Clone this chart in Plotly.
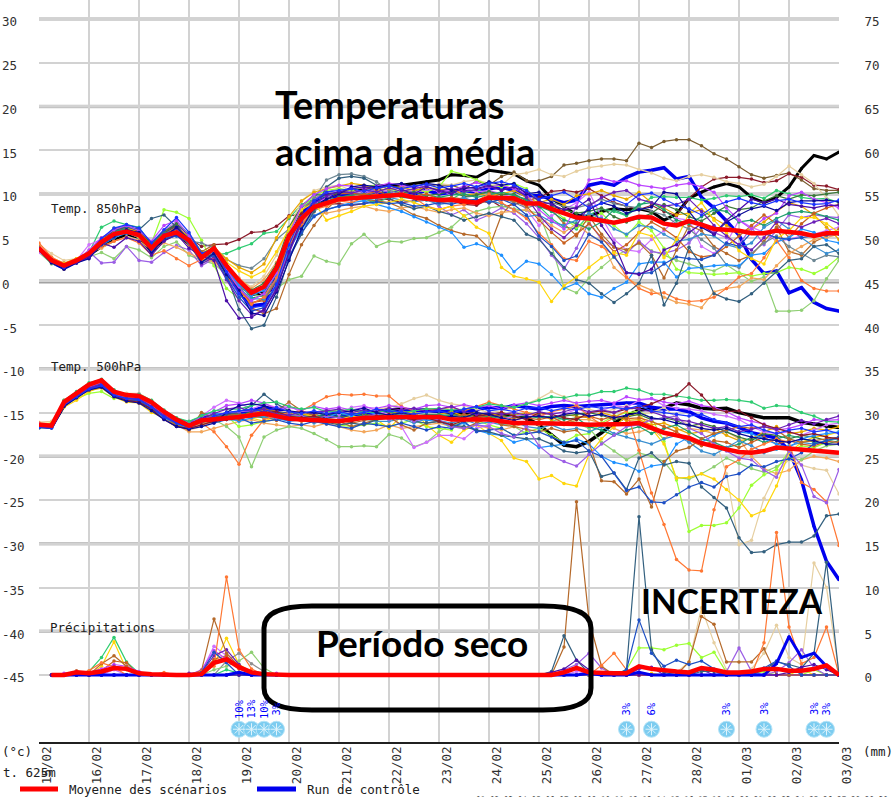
import pandas as pd
import plotly.graph_objects as go

# Ensemble forecast plume: 850 hPa and 500 hPa temperature, plus precipitation.
W, H = 894, 797
LEFT, RIGHT, TOP, BOTTOM = 39, 839, 0, 743
MONO = "DejaVu Sans Mono"
TICK_GREY = "#303030"

DATES = pd.date_range("2018-02-15", periods=65, freq="6h")
DAY_TICKS = pd.date_range("2018-02-15", periods=17, freq="D")
DAY_LABELS = ["15/02", "16/02", "17/02", "18/02", "19/02", "20/02", "21/02", "22/02", "23/02",
              "24/02", "25/02", "26/02", "27/02", "28/02", "01/03", "02/03", "03/03"]
TEMP_TICKS = [30, 25, 20, 15, 10, 5, 0, -5, -10, -15, -20, -25, -30, -35, -40, -45]
MM_TICKS = [75, 70, 65, 60, 55, 50, 45, 40, 35, 30, 25, 20, 15, 10, 5, 0]
HEAVY_TEMPS = [30, 20, 10, -10, -20, -30, -40]

# Temperature at 850 hPa (°C), one value every 6 hours
T850_MEAN = [3.8,2.4,1.8,2.4, 3.2,4.5,5.4,5.7, 5.3,3.8,5.2,5.6, 4.7,2.7,3.8,1.8, 0.1,-1.3,-0.6,1.5, 5.2,7.2,8.5,9.0, 9.4,9.5,9.6,9.6, 9.8,9.9,9.6,9.4, 9.3,9.3,9.2,9.0, 9.6,9.6,9.5,8.9, 8.9,8.3,7.8,7.3, 7.2,7.0,6.7,7.0, 7.4,7.3,6.6,6.4, 6.9,6.5,6.0,5.9, 5.8,5.5,5.5,5.8, 5.7,5.5,5.2,5.5, 5.5]
T850_RUN = [3.7,2.2,1.5,2.3, 3.0,4.4,5.6,6.1, 5.8,3.6,5.3,6.5, 5.0,3.0,3.6,1.0, -1.2,-2.8,-2.6,0.5, 4.8,7.8,9.0,9.6, 9.8,10.0,10.2,10.0, 10.2,10.1,10.0,10.4, 10.0,10.2,10.4,10.2, 10.6,10.8,10.4,9.8, 9.8,9.4,9.0,9.3, 11.0,11.3,11.0,11.9, 12.5,12.7,13.0,11.7, 12.0,9.6,8.4,6.9, 5.3,2.5,0.9,1.2, -1.3,-0.7,-2.4,-3.1, -3.4]
T850_BLACK = [3.5,2.2,1.7,2.3, 3.0,4.0,4.7,5.4, 5.0,3.4,4.8,5.4, 4.3,3.0,3.5,1.5, -0.3,-1.5,-1.3,1.2, 5.0,7.5,8.7,9.5, 10.0,10.3,10.6,10.9, 11.0,11.0,11.2,11.4, 11.6,12.2,12.1,11.9, 12.7,12.5,12.3,11.5, 11.0,9.5,8.5,7.6, 7.4,8.0,8.3,8.2, 8.3,8.0,7.0,7.7, 9.5,10.2,10.8,11.2, 10.8,9.6,9.0,9.6, 10.8,12.9,14.4,14.0, 14.8]
T850_OLIVE = [3.6,2.2,1.6,2.2, 3.0,4.2,5.6,6.0, 5.6,4.0,5.6,6.4, 4.5,3.0,3.4,1.2, -0.6,-2.5,-2.0,0.0, 5.0,8.0,9.5,10.0, 10.0,10.5,10.8,10.5, 11.0,10.5,10.2,11.0, 11.0,11.0,10.5,11.5, 11.0,12.0,12.5,11.5, 11.5,12.0,13.3,13.5, 13.8,14.0,14.0,13.8, 15.8,15.3,16.0,16.2, 16.2,15.5,14.6,14.0, 13.1,12.2,11.8,12.1, 12.4,11.6,10.6,10.4, 10.4]
T850_DARKRED = [3.5,2.3,1.9,2.5, 3.1,4.6,5.5,5.9, 5.5,4.1,5.4,6.0, 5.0,4.0,4.2,4.3, 4.8,5.6,5.7,6.3, 7.5,7.7,8.3,8.8, 8.9,8.7,8.9,9.3, 9.4,9.0,9.2,9.5, 9.0,9.2,8.8,8.7, 9.4,8.5,8.8,9.2, 9.6,10.3,10.4,10.2, 10.6,9.8,9.0,8.6, 8.2,8.7,8.0,7.5, 9.5,10.8,11.7,11.9, 11.9,11.7,11.3,11.5, 12.3,11.9,11.0,10.9, 10.5]
T850_GREEN = [3.9,2.6,1.8,2.5, 3.3,6.2,6.9,6.5, 6.2,4.2,5.8,6.8, 5.4,3.4,3.0,3.2, 3.8,4.3,5.5,5.7, 7.2,8.8,9.4,9.8, 9.2,9.8,9.4,9.0, 9.6,9.8,9.9,9.3, 9.6,9.4,10.2,10.5, 10.0,10.2,9.8,9.0, 8.6,7.2,6.2,6.0, 7.6,8.3,8.0,7.5, 8.6,9.6,9.7,9.6, 9.6,9.3,9.5,9.8, 9.7,9.9,9.5,10.4, 10.0,9.6,9.4,9.5, 9.0]
T850_SOFTGREEN = [3.4,2.0,1.7,2.1, 2.8,3.3,2.6,4.0, 3.6,2.7,4.0,4.5, 3.0,2.4,2.0,0.8, -0.5,-1.4,-1.8,-0.8, 0.2,0.6,2.9,2.3, 2.0,4.3,5.4,4.0, 4.6,4.5,4.9,5.0, 5.6,6.2,7.5,8.0, 8.4,8.6,8.3,8.1, 7.8,4.1,-0.7,-1.3, 0.4,1.6,2.8,3.6, 4.4,3.5,3.0,2.4, 2.0,1.5,1.2,1.9, 1.0,0.0,0.5,-3.4, -3.4,-3.3,-2.2,0.3, 2.4]
T850_YELLOW = [3.7,2.4,2.0,2.6, 3.2,4.8,5.5,5.7, 5.1,3.7,5.0,5.8, 4.4,2.5,3.6,2.2, 1.2,0.5,1.2,3.4, 6.0,8.2,9.0,7.0, 7.5,8.0,8.6,8.8, 9.0,9.4,9.0,8.5, 8.2,8.6,7.5,6.2, 5.5,1.6,0.6,0.3, -0.1,-2.3,-0.5,0.5, 1.6,2.7,3.3,3.0, 5.6,5.2,2.7,4.8, 7.8,9.0,7.0,5.5, 3.5,2.6,2.0,4.9, 5.8,7.3,7.3,6.6, 5.6]
T850_SKY = [3.6,2.3,1.7,2.2, 3.0,4.1,5.0,5.5, 5.2,3.6,4.9,5.2, 4.6,2.8,3.4,1.4, -0.4,-1.6,-1.0,0.8, 3.6,6.0,7.5,8.2, 8.6,9.0,9.2,8.8, 8.4,8.0,7.4,6.8, 6.2,5.6,3.9,4.3, 3.8,3.0,1.1,2.3, 2.0,0.8,-0.8,-0.2, -1.4,-1.8,-0.8,-0.1, 2.0,2.2,2.2,0.5, 1.5,1.6,1.8,1.9, 1.8,3.0,3.2,4.5, 5.0,6.0,5.6,4.7, 4.4]
T850_ORANGE = [4.4,2.8,2.0,2.4, 3.2,4.0,4.6,5.0, 4.4,3.0,3.5,2.6, 1.8,2.5,2.6,0.6, -1.0,-2.6,-1.8,0.4, 4.2,6.6,8.2,8.6, 9.2,9.0,9.6,10.0, 9.6,10.2,9.6,8.6, 8.2,8.6,8.8,9.2, 10.0,9.0,8.2,7.2, 5.5,4.2,2.6,2.4, 4.6,4.0,3.0,0.5, -0.8,-1.4,-1.3,-2.0, -2.3,-2.2,-1.8,-0.8, 0.5,0.9,2.7,4.7, 2.7,0.1,-0.8,-1.1, -1.1]
T850_STEEL = [3.7,2.4,1.6,2.3, 3.1,4.7,5.8,6.2, 5.9,7.2,7.6,6.2, 4.4,2.6,3.2,0.8, -3.2,-5.4,-5.0,-1.8, 2.6,5.4,8.0,10.8, 11.8,12.0,11.8,11.0, 9.5,8.8,8.3,8.6, 8.0,7.6,7.0,7.4, 7.8,7.4,7.0,5.4, 4.8,3.2,1.6,0.2, -0.2,-1.4,-2.4,-1.4, -0.2,3.0,-2.7,-0.2, 3.9,1.8,-1.4,-2.0, -2.3,-1.4,-0.2,1.1, 2.4,2.6,4.0,4.2, 3.2]
T850_TAN = [4.2,3.2,2.4,2.6, 3.2,4.4,5.2,5.6, 5.0,3.8,5.0,5.4, 4.6,3.2,3.8,2.0, 0.2,-0.6,0.6,3.0, 6.2,9.2,10.4,10.8, 11.0,10.4,10.0,10.2, 10.4,9.8,10.6,10.2, 11.2,11.0,11.4,11.6, 11.2,11.0,12.2,12.4, 12.8,12.2,12.0,12.6, 13.0,13.2,13.4,13.3, 12.8,12.4,11.8,11.5, 12.0,12.2,11.9,11.4, 11.2,10.8,11.1,12.0, 13.2,12.2,11.2,9.5, 7.5]
T850_VIOLET = [3.3,2.6,2.1,2.4, 4.2,4.8,5.6,5.9, 5.4,3.6,5.8,6.8, 4.8,2.5,3.4,1.6, -0.4,-0.8,-1.6,0.2, 3.4,6.6,8.8,9.6, 10.4,10.6,10.2,10.6, 10.4,10.8,10.2,10.4, 10.6,9.8,10.6,10.2, 10.4,10.0,9.6,8.2, 6.4,7.5,8.2,9.0, 10.2,7.4,4.8,3.6, 3.4,4.8,5.8,7.2, 7.0,4.0,3.2,4.4, 7.0,6.2,5.6,4.6, 4.8,5.2,5.4,5.8, 6.2]
T850_PURPLE = [3.9,2.5,1.9,2.6, 3.4,2.1,2.2,4.0, 2.4,2.2,3.3,4.1, 3.6,1.8,2.6,0.4, -1.4,-3.2,-3.4,-0.6, 3.8,7.0,9.4,10.2, 10.6,10.2,10.0,10.5, 10.2,9.8,10.4,9.6, 8.6,7.6,8.2,7.0, 7.6,8.4,7.8,6.6, 5.0,3.0,1.4,3.8, 6.8,4.8,4.0,3.2, 4.6,3.4,3.2,3.6, 4.4,6.2,5.6,5.0, 4.2,6.2,4.2,5.8, 7.6,7.3,7.6,7.4, 7.3]
T850_DARKPURPLE = [3.8,2.5,1.6,2.2, 2.8,4.4,3.9,5.0, 4.6,3.0,4.6,5.4, 3.8,2.9,2.4,-2.2, -4.2,-4.1,-3.2,-1.0, 3.4,7.2,9.2,10.0, 10.2,10.6,10.8,10.6, 11.0,10.5,10.0,10.8, 10.4,10.0,10.8,10.6, 11.0,10.4,10.8,10.2, 9.2,8.8,8.2,8.4, 9.4,6.4,4.4,1.0, 0.8,1.4,3.6,4.2, 5.6,6.6,5.4,7.0, 8.2,9.4,9.0,9.4, 8.8,8.6,8.4,8.7, 8.7]
T850_ROYAL = [3.6,2.2,1.5,2.2, 2.9,4.2,5.0,5.8, 5.5,3.4,4.9,5.2, 4.4,2.2,3.0,0.4, -1.8,-3.4,-3.0,-0.4, 2.8,5.6,7.4,8.2, 8.6,8.8,8.9,9.1, 8.9,9.0,8.6,8.7, 9.0,8.8,9.2,9.4, 9.0,9.4,8.8,7.6, 5.2,4.0,2.4,2.9, 5.4,4.5,2.8,1.0, 0.9,1.0,2.0,2.8, 2.6,2.5,3.0,4.4, 4.0,5.6,5.5,5.0, 4.8,5.0,5.2,5.3, 5.4]
T850_LIME = [3.8,2.6,2.0,2.5, 3.5,4.6,6.1,6.3, 5.5,4.4,8.2,7.9, 7.2,4.7,1.8,-0.8, -2.0,-1.2,-0.4,1.6, 5.6,8.4,9.8,10.4, 10.6,10.4,10.8,11.0, 10.6,10.2,10.6,10.2, 10.8,12.6,12.2,11.6, 11.0,10.8,11.2,10.6, 9.0,8.4,7.2,6.2, 7.0,7.8,6.4,5.2, 6.8,5.8,3.8,1.4, 1.0,0.9,0.8,0.9, 1.0,0.6,0.9,1.0, 1.6,1.4,0.9,1.6, 2.8]
T850_BROWN = [4.0,2.4,1.4,2.2, 3.0,4.6,5.8,6.1, 5.7,4.2,5.2,5.8, 5.2,3.4,4.2,1.6, -0.2,-3.0,-3.7,-3.1, 0.8,4.2,6.4,8.2, 9.6,9.8,9.4,9.2, 9.0,8.4,7.6,7.2, 6.4,5.8,5.4,5.2, 3.8,7.6,9.2,9.0, 8.6,8.2,6.6,5.2, 7.5,5.4,3.9,3.6, 4.4,3.0,0.4,3.6, 6.4,5.8,4.0,3.2, 2.4,3.0,4.6,6.2, 3.4,3.0,4.5,5.2, 6.0]
T850_SLATE = [3.7,2.3,1.7,2.3, 3.1,4.3,5.3,5.6, 5.0,3.9,5.2,5.3, 4.6,4.4,3.8,2.5, 1.8,1.5,2.6,4.8, 6.0,8.4,9.4,11.6, 12.2,12.3,12.0,11.4, 10.4,10.0,9.8,9.4, 9.0,9.2,9.6,9.8, 10.2,9.6,9.0,8.4, 8.8,9.0,8.6,8.4, 8.8,9.4,8.9,8.6, 8.4,8.0,7.6,6.6, 6.0,4.8,3.8,1.9, 1.6,3.2,4.4,5.2, 4.0,3.2,2.4,3.0, 2.8]
T850_NAVY = [3.6,2.1,1.4,2.1, 2.6,4.3,5.2,5.9, 5.6,3.2,5.0,6.2, 4.8,2.2,3.2,0.8, -1.0,-3.6,-3.9,-1.2, 2.4,6.0,8.4,9.4, 10.0,10.8,11.0,10.8, 11.0,11.2,10.8,11.2, 11.0,10.4,10.6,10.8, 11.4,11.0,11.2,10.0, 10.2,9.0,7.8,7.4, 8.2,9.0,8.6,7.8, 8.2,8.5,10.2,10.0, 8.0,6.2,5.4,6.8, 7.6,8.3,8.6,8.1, 9.0,9.2,9.2,9.3, 9.1]
T850_PEACH = [3.9,2.7,2.0,2.5, 3.3,3.8,4.6,5.1, 4.7,3.5,4.4,3.9, 3.2,2.6,2.2,1.2, 0.4,-0.8,0.2,2.2, 4.6,7.0,7.6,7.8, 8.1,8.4,8.6,8.2, 8.0,8.4,8.6,8.2, 7.9,8.2,8.4,7.8, 7.5,7.9,8.0,8.2, 7.4,6.4,5.6,6.6, 5.4,4.6,1.6,0.4, -0.4,-1.0,-1.8,-2.4, -2.6,-3.0,-1.2,-0.8, -0.6,0.4,0.2,1.8, 3.2,4.0,4.8,5.0, 5.4]
T850_BLUE = [3.7,2.3,1.6,2.3, 3.2,4.9,6.1,6.5, 6.1,4.4,5.9,7.3, 5.6,3.2,3.7,1.1, -1.4,-3.0,-2.8,-0.3, 4.2,7.4,9.2,10.2, 10.4,10.6,10.3,10.7, 10.9,10.6,10.9,11.1, 10.7,10.9,11.2,10.8, 11.2,11.4,11.0,10.4, 9.4,9.8,10.2,9.4, 8.4,8.9,9.4,8.8, 9.9,10.1,9.4,8.7, 8.3,7.6,8.6,9.1, 9.5,9.0,8.7,9.2, 9.4,9.0,8.8,8.9, 9.3]
T850_MAGENTA = [3.6,2.5,1.9,2.4, 3.6,5.0,5.9,6.4, 5.8,4.6,6.4,7.0, 5.2,2.9,3.5,1.3, -0.8,-2.2,-1.4,1.0, 5.4,8.6,9.9,10.6, 11.0,10.9,10.6,10.9, 11.2,11.0,10.7,10.9, 10.2,10.4,10.9,11.3, 10.8,11.0,10.6,10.0, 8.2,7.0,6.0,8.6, 11.6,11.8,11.4,11.5, 11.0,10.8,10.6,11.0, 11.2,10.8,10.2,8.4, 7.0,6.0,7.2,7.8, 9.8,10.2,9.4,9.0, 8.4]
T850_TEAL = [3.7,2.4,1.8,2.4, 3.3,4.6,5.7,6.0, 5.4,3.9,5.5,5.9, 5.0,2.8,3.9,1.7, -0.1,-1.9,-1.6,0.9, 4.9,7.0,8.8,9.2, 9.6,9.9,10.0,9.7, 10.1,9.6,9.5,9.9, 9.6,9.9,10.0,9.6, 9.9,10.2,9.8,9.4, 8.6,8.0,7.0,6.6, 6.0,6.8,8.2,7.6, 8.8,9.0,8.2,7.0, 6.6,7.4,8.2,8.0, 6.8,7.0,6.4,7.2, 7.8,8.0,7.8,7.4, 7.0]
T850_GOLD = [3.9,2.7,2.1,2.6, 3.4,5.0,5.8,6.2, 5.5,4.0,5.4,6.2, 5.1,3.2,3.9,2.6, 1.6,1.0,2.0,5.0, 7.4,9.2,10.2,10.6, 10.9,11.2,11.0,10.4, 10.6,10.8,10.4,10.7, 10.5,10.6,9.9,10.0, 9.8,10.0,10.4,9.6, 9.0,9.4,8.8,9.8, 10.0,10.4,9.8,9.4, 10.2,9.0,8.4,7.6, 7.8,8.2,7.2,6.4, 5.6,6.0,6.8,8.0, 9.0,8.6,7.6,6.2, 4.8]
T850_RUST = [3.5,2.2,1.8,2.4, 3.0,4.4,5.2,5.8, 5.2,3.7,5.1,5.5, 4.2,2.2,3.3,1.0, -0.9,-2.4,-2.2,0.2, 3.9,6.4,8.0,9.4, 10.0,10.1,9.9,10.3, 9.9,10.0,9.7,10.0, 9.4,9.6,9.4,9.2, 9.0,9.4,9.2,8.6, 7.0,5.6,4.4,5.4, 6.6,5.0,3.4,4.2, 5.6,6.8,6.0,5.0, 3.4,2.8,3.0,4.0, 5.2,6.4,7.6,6.6, 5.0,6.6,7.8,8.4, 8.8]
T850_PLUM = [3.8,2.3,1.5,2.1, 2.7,4.2,5.4,5.8, 5.6,3.3,5.4,6.0, 4.6,2.0,2.8,0.2, -2.2,-3.8,-3.4,-0.8, 3.2,6.8,8.9,9.7, 10.3,10.1,10.5,10.2, 10.7,10.3,10.6,10.9, 10.3,10.6,10.3,10.5, 10.9,10.4,10.9,9.6, 7.6,6.0,5.0,6.4, 8.6,9.6,10.2,10.4, 9.4,9.0,8.6,8.8, 9.4,8.0,6.4,5.2, 4.2,3.6,5.0,6.8, 6.6,6.2,6.8,7.2, 6.6]
T850_AQUA = [3.7,2.5,1.7,2.3, 3.2,4.5,5.5,5.9, 5.3,4.0,5.0,5.4, 4.8,3.0,3.6,1.4, -0.7,-2.0,-2.0,0.3, 3.8,6.0,8.0,9.0, 9.2,9.4,9.3,9.5, 9.6,9.3,9.1,9.3, 8.8,9.0,9.6,9.0, 9.2,8.9,8.2,7.4, 7.6,6.8,6.4,7.0, 7.8,7.2,6.0,5.4, 6.4,6.2,5.4,4.6, 4.8,5.4,5.2,4.2, 3.8,4.4,6.2,7.0, 6.0,5.0,4.0,3.2, 3.6]
T850_FOREST = [3.6,2.4,1.6,2.2, 3.1,4.8,6.0,6.3, 5.9,4.3,5.7,6.6, 5.3,3.1,3.9,1.8, 0.0,-1.0,-0.2,2.0, 6.2,8.6,9.9,9.9, 10.1,10.0,9.8,10.0, 9.7,10.1,10.2,9.8, 10.0,10.3,9.7,9.9, 10.3,9.9,10.0,9.2, 8.4,8.6,8.2,7.8, 8.0,8.4,7.4,6.8, 7.2,7.8,8.8,8.2, 7.4,6.9,7.8,8.6, 8.2,8.4,9.2,9.8, 9.4,9.9,9.8,10.0, 10.2]

# Temperature at 500 hPa (°C)
T500_MEAN = [-16.4,-16.5,-13.8,-12.8, -11.8,-11.3,-12.6,-13.0, -13.1,-13.8,-14.9,-15.8, -16.5,-15.9,-15.8,-15.7, -15.5,-15.3,-15.1,-15.4, -15.7,-15.8,-15.9,-16.0, -16.0,-15.8,-15.6,-15.6, -15.5,-15.5,-15.5,-15.5, -15.5,-15.8,-15.8,-15.8, -15.8,-16.0,-16.2,-16.2, -16.2,-16.3,-16.3,-16.3, -16.4,-16.4,-16.4,-16.3, -16.2,-16.7,-17.3,-17.6, -17.9,-18.5,-18.9,-19.2, -19.5,-19.6,-19.4,-19.0, -19.1,-19.2,-19.4,-19.5, -19.6]
T500_RUN = [-16.6,-16.7,-14.0,-13.0, -12.2,-11.8,-12.9,-13.4, -13.3,-14.2,-15.1,-16.0, -16.4,-15.6,-15.4,-15.2, -15.0,-14.8,-14.4,-14.8, -15.0,-15.3,-15.2,-15.4, -15.4,-15.4,-15.2,-15.0, -15.0,-14.9,-14.7,-14.8, -14.9,-14.9,-14.8,-14.7, -14.4,-14.5,-14.2,-14.4, -14.6,-14.3,-14.2,-14.3, -14.2,-14.1,-14.0,-13.9, -13.9,-14.4,-14.6,-14.6, -14.9,-15.6,-16.0,-16.2, -16.7,-17.3,-17.6,-17.9, -19.3,-22.7,-28.0,-32.0, -34.1]
T500_BLACK = [-16.5,-16.6,-14.2,-13.0, -12.0,-11.6,-12.8,-13.2, -13.3,-14.0,-15.0,-15.8, -16.2,-15.6,-15.4,-15.6, -15.6,-15.2,-15.0,-15.2, -15.6,-15.7,-15.6,-15.5, -15.4,-15.3,-15.0,-14.8, -14.7,-14.6,-14.8,-14.7, -14.9,-15.0,-15.1,-15.2, -15.3,-15.2,-15.4,-15.6, -16.4,-17.5,-18.7,-18.9, -18.3,-17.3,-16.2,-15.4, -14.7,-14.6,-14.5,-13.9, -14.1,-14.5,-14.6,-14.5, -15.0,-15.3,-15.6,-15.6, -15.6,-16.1,-16.3,-16.6, -16.7]
T500_GREEN = [-16.5,-16.4,-13.6,-12.6, -11.6,-11.2,-12.4,-13.2, -12.9,-13.6,-14.7,-15.6, -16.0,-15.4,-14.8,-14.6, -14.6,-14.2,-13.9,-13.8, -14.3,-14.6,-14.4,-14.9, -14.8,-14.6,-14.9,-15.0, -14.7,-15.0,-14.8,-14.6, -14.5,-14.7,-14.6,-14.4, -14.0,-14.2,-14.4,-14.0, -13.6,-13.2,-13.3,-13.0, -13.0,-12.6,-12.6,-12.2, -12.4,-12.9,-12.9,-13.1, -13.3,-13.6,-13.6,-13.5, -13.6,-13.8,-14.5,-14.2, -14.3,-15.0,-15.4,-16.0, -16.1]
T500_ORANGE = [-16.2,-16.3,-13.6,-12.7, -11.9,-11.6,-12.6,-13.1, -13.4,-14.0,-15.2,-16.1, -16.6,-16.2,-17.2,-18.9, -20.9,-17.6,-15.8,-15.3, -15.0,-14.8,-14.0,-13.2, -12.9,-13.0,-12.9,-13.1, -13.1,-14.3,-14.8,-14.6, -14.6,-14.4,-14.8,-14.3, -13.8,-14.2,-14.6,-15.0, -15.4,-14.9,-14.6,-14.2, -15.4,-16.4,-15.6,-14.8, -19.3,-24.2,-27.8,-31.8, -33.0,-33.1,-26.1,-21.2, -20.4,-19.2,-18.6,-18.0, -18.4,-23.0,-23.8,-25.2, -30.2]
T500_SOFTGREEN = [-16.8,-16.6,-14.2,-13.4, -12.2,-11.8,-13.0,-13.6, -13.7,-14.4,-15.3,-16.2, -16.6,-16.2,-15.8,-16.6, -17.8,-21.2,-17.8,-17.0, -16.6,-16.8,-17.4,-18.1, -18.9,-18.9,-18.8,-18.9, -17.5,-17.9,-18.9,-18.4, -17.2,-16.4,-16.2,-15.8, -15.6,-16.2,-16.6,-17.4, -17.2,-16.0,-15.6,-16.2, -16.8,-18.4,-19.4,-20.4, -19.6,-20.0,-20.6,-22.4, -22.6,-22.0,-21.2,-20.2, -20.8,-21.4,-21.8,-21.2, -20.2,-20.4,-19.4,-18.8, -18.6]
T500_YELLOW = [-16.3,-16.2,-14.4,-13.6, -12.6,-12.0,-13.2,-13.8, -13.9,-15.0,-15.6,-16.4, -16.8,-16.0,-15.6,-15.4, -15.2,-15.6,-16.0,-15.4, -15.2,-14.9,-15.6,-16.2, -15.8,-15.4,-15.6,-15.8, -16.8,-15.4,-14.8,-16.4, -17.6,-18.4,-17.0,-16.4, -17.4,-18.2,-20.2,-20.6, -22.6,-22.2,-23.1,-23.4, -19.8,-18.0,-16.6,-15.4, -15.2,-16.8,-18.6,-22.5, -22.4,-22.0,-22.6,-23.8, -25.0,-26.8,-26.2,-23.4, -19.6,-18.4,-17.8,-17.6, -17.2]
T500_LIME = [-16.4,-16.2,-13.9,-13.4, -12.8,-12.6,-13.4,-13.2, -13.0,-13.9,-15.0,-15.9, -16.4,-16.0,-15.2,-15.4, -16.6,-16.4,-16.0,-15.8, -15.4,-15.0,-15.6,-15.8, -16.4,-16.6,-16.4,-16.2, -16.6,-16.2,-15.8,-16.6, -16.8,-17.0,-15.6,-15.9, -16.4,-16.8,-17.6,-17.2, -16.8,-17.6,-18.4,-17.6, -17.4,-16.2,-15.4,-15.0, -14.9,-15.6,-18.3,-22.7, -28.6,-27.9,-27.9,-27.6, -25.9,-23.3,-22.1,-21.5, -19.4,-18.8,-19.0,-18.4, -17.8]
T500_SLATE = [-16.6,-16.5,-14.0,-12.9, -12.1,-11.7,-12.9,-13.3, -13.5,-14.2,-15.0,-15.8, -16.2,-15.8,-15.6,-15.2, -15.0,-14.2,-12.9,-14.0, -14.8,-15.4,-15.9,-16.1, -16.4,-16.2,-16.4,-15.8, -15.6,-15.4,-16.0,-16.2, -16.0,-16.4,-16.6,-17.0, -17.2,-17.6,-17.8,-18.0, -18.0,-18.6,-19.4,-19.6, -19.4,-22.3,-21.9,-23.8, -20.2,-19.6,-21.0,-20.6, -20.8,-23.5,-24.7,-25.9, -29.3,-31.0,-30.9,-30.1, -29.8,-29.8,-29.1,-26.8, -26.6]
T500_ROYAL = [-16.7,-16.8,-14.2,-13.2, -12.4,-12.0,-13.1,-13.6, -13.6,-14.6,-15.4,-16.2, -16.6,-15.8,-16.2,-15.8, -15.6,-16.2,-16.0,-15.8, -16.2,-16.4,-16.0,-16.3, -16.6,-16.8,-16.2,-16.4, -16.6,-16.2,-16.6,-17.0, -16.6,-16.8,-16.0,-17.2, -17.0,-16.8,-17.6,-17.4, -17.2,-17.8,-18.4,-18.2, -19.4,-20.0,-21.9,-23.9, -23.5,-25.2,-25.3,-24.4, -23.5,-23.0,-23.5,-22.3, -22.0,-21.0,-21.2,-20.6, -20.3,-19.6,-18.6,-18.2, -17.8]
T500_BROWN = [-16.5,-16.4,-14.0,-13.1, -12.3,-11.4,-12.7,-13.4, -13.6,-14.3,-15.4,-16.4, -17.0,-15.0,-15.6,-15.2, -15.8,-15.0,-14.6,-14.8, -13.8,-14.8,-15.3,-15.8, -16.0,-16.6,-16.2,-15.8, -15.5,-16.4,-17.0,-16.2, -16.0,-16.4,-16.8,-16.2, -15.6,-16.4,-16.6,-16.9, -17.2,-16.8,-17.2,-17.0, -18.4,-22.8,-22.9,-24.3, -22.6,-25.8,-20.6,-19.4, -19.0,-18.0,-17.4,-17.0, -16.6,-16.8,-16.6,-17.0, -18.0,-18.4,-18.2,-18.0, -17.8]
T500_SKY = [-16.6,-16.6,-14.1,-13.0, -12.2,-11.9,-13.0,-13.5, -13.7,-14.5,-15.6,-16.3, -16.6,-15.2,-15.0,-15.4, -16.0,-15.6,-15.2,-15.6, -16.0,-15.8,-16.0,-15.6, -15.0,-15.4,-14.8,-15.2, -15.6,-15.2,-15.6,-15.9, -16.0,-16.6,-16.2,-17.0, -17.4,-17.6,-18.4,-18.0, -19.0,-18.8,-18.6,-18.0, -18.6,-20.0,-20.7,-21.0, -21.7,-21.1,-20.9,-18.6, -17.8,-18.4,-17.6,-17.0, -17.2,-17.4,-18.0,-18.6, -19.0,-18.0,-17.6,-17.4, -17.2]
T500_TAN = [-16.1,-16.0,-13.8,-12.7, -12.0,-11.4,-12.5,-12.8, -12.8,-13.6,-14.8,-16.0, -17.0,-16.6,-16.0,-15.6, -15.4,-15.0,-15.4,-15.0, -14.8,-15.2,-15.4,-15.0, -14.6,-14.9,-15.1,-14.6, -14.4,-14.0,-13.4,-13.0, -13.6,-14.0,-14.2,-14.6, -15.0,-14.8,-14.4,-14.0, -13.4,-12.6,-13.2,-14.2, -14.6,-15.0,-14.6,-14.2, -15.2,-15.0,-14.4,-15.6, -16.4,-16.6,-17.6,-22.0, -30.1,-29.6,-24.8,-21.8, -20.4,-21.0,-21.4,-21.6, -24.3]
T500_VIOLET = [-16.4,-16.5,-13.9,-12.8, -11.9,-11.5,-12.8,-13.1, -13.2,-14.0,-15.1,-15.9, -16.4,-15.4,-14.4,-13.6, -13.9,-14.6,-14.0,-14.4, -14.2,-15.0,-15.0,-14.6, -15.2,-14.4,-14.2,-14.8, -15.2,-16.6,-19.0,-18.4, -17.6,-17.6,-18.0,-16.8, -16.4,-15.8,-15.4,-15.2, -15.4,-15.0,-15.2,-14.6, -15.0,-14.8,-14.2,-14.4, -13.6,-13.4,-14.2,-14.5, -14.6,-14.8,-15.2,-15.4, -15.8,-16.6,-17.2,-17.4, -17.2,-17.6,-17.0,-16.4, -16.2]
T500_PURPLE = [-16.5,-16.6,-14.1,-13.1, -12.1,-11.6,-12.9,-13.3, -13.4,-14.2,-15.2,-16.0, -16.4,-15.8,-15.4,-15.0, -14.9,-14.8,-15.2,-15.6, -15.2,-15.4,-15.7,-15.4, -15.6,-15.8,-15.5,-15.2, -15.8,-15.4,-16.0,-15.6, -15.8,-16.6,-16.8,-16.4, -16.6,-17.4,-17.8,-16.6, -18.8,-20.0,-20.6,-21.1, -19.8,-18.6,-17.6,-16.6, -16.4,-15.8,-15.6,-15.4, -16.8,-17.4,-18.6,-19.4, -20.2,-20.4,-21.6,-22.4, -19.4,-21.0,-24.6,-25.3, -21.5]
T500_DARKRED = [-16.6,-16.7,-14.0,-13.2, -12.3,-11.8,-13.0,-13.6, -13.8,-14.6,-15.8,-16.6, -16.8,-16.4,-16.0,-15.8, -15.6,-15.4,-15.0,-14.9, -15.4,-15.6,-15.4,-15.8, -15.9,-16.0,-15.7,-15.4, -15.2,-15.6,-15.8,-15.6, -16.0,-16.4,-15.9,-15.4, -15.2,-15.0,-15.4,-15.8, -15.0,-15.2,-15.6,-15.8, -15.0,-14.8,-15.0,-14.6, -14.4,-14.0,-13.4,-13.0, -11.7,-13.0,-14.6,-14.9, -14.8,-15.6,-16.4,-16.8, -17.2,-17.6,-17.4,-17.8, -18.0]
T500_NAVY = [-16.7,-16.6,-14.3,-13.3, -12.4,-12.1,-13.2,-13.7, -13.9,-14.8,-15.8,-16.6, -16.9,-16.6,-16.2,-15.0, -14.2,-14.0,-14.2,-14.6, -14.8,-15.0,-15.0,-15.2, -15.0,-14.8,-14.5,-15.0, -15.3,-15.0,-15.3,-15.4, -15.6,-15.4,-15.6,-15.0, -15.2,-15.6,-15.9,-15.5, -15.4,-15.6,-15.2,-15.0, -15.4,-15.2,-15.6,-15.3, -15.0,-15.6,-15.8,-16.2, -16.4,-16.8,-17.0,-16.8, -17.4,-17.8,-18.0,-18.2, -18.4,-18.0,-18.2,-18.6, -18.6]
T500_PEACH = [-16.2,-16.3,-14.0,-13.0, -12.5,-12.0,-13.1,-13.4, -13.6,-14.4,-15.6,-16.4, -17.2,-17.2,-16.8,-16.4, -16.0,-15.8,-16.2,-16.4, -16.6,-16.4,-16.6,-16.2, -16.6,-17.0,-17.2,-17.0, -16.4,-16.8,-16.6,-16.4, -16.2,-16.6,-16.8,-16.4, -16.8,-17.0,-16.6,-16.2, -16.4,-16.0,-16.4,-15.8, -15.8,-16.2,-16.8,-17.4, -17.2,-16.8,-18.0,-17.0, -16.8,-17.0,-17.4,-17.2, -18.0,-20.0,-21.4,-22.0, -21.6,-20.4,-20.0,-20.2, -20.6]
T500_BLUE = [-16.7,-16.7,-14.1,-13.2, -12.3,-11.9,-13.0,-13.4, -13.5,-14.4,-15.5,-16.2, -16.7,-16.0,-15.4,-15.0, -14.8,-14.6,-14.9,-14.4, -14.9,-15.1,-14.8,-15.1, -14.9,-15.2,-15.0,-14.6, -14.8,-14.9,-15.2,-14.9, -14.8,-15.1,-14.6,-14.3, -14.8,-14.6,-14.9,-14.5, -14.4,-14.8,-14.5,-14.7, -14.3,-14.5,-14.4,-14.6, -14.2,-14.8,-15.0,-15.2, -15.4,-15.2,-15.8,-16.2, -16.6,-16.4,-17.0,-17.4, -17.0,-16.8,-17.2,-17.0, -17.4]
T500_MAGENTA = [-16.3,-16.4,-13.7,-12.8, -11.8,-11.4,-12.7,-13.0, -12.9,-13.9,-14.9,-15.7, -16.1,-15.5,-14.9,-14.2, -14.0,-13.6,-13.9,-14.6, -14.4,-14.7,-14.3,-14.6, -14.4,-14.7,-14.4,-14.5, -14.2,-14.4,-14.6,-14.2, -14.1,-14.4,-14.1,-14.4, -14.2,-14.6,-14.1,-13.9, -14.2,-13.9,-13.6,-13.9, -13.7,-13.6,-13.9,-13.2, -13.5,-13.4,-13.8,-14.0, -13.7,-14.2,-14.4,-14.9, -15.6,-16.0,-16.3,-17.0, -16.8,-16.4,-15.8,-15.9, -15.8]
T500_TEAL = [-16.6,-16.5,-14.0,-13.0, -12.1,-11.7,-12.8,-13.2, -13.2,-14.1,-15.2,-16.1, -16.5,-15.9,-15.2,-15.4, -15.2,-15.4,-15.6,-15.0, -15.3,-15.4,-15.5,-15.1, -15.3,-15.1,-15.4,-15.3, -14.9,-15.3,-15.1,-15.2, -15.2,-15.4,-15.3,-15.6, -15.4,-15.7,-15.3,-15.4, -15.6,-15.4,-15.8,-15.6, -16.6,-17.0,-17.6,-17.0, -16.6,-17.4,-16.8,-16.4, -17.2,-18.0,-18.4,-19.0, -18.6,-17.8,-18.4,-18.0, -17.6,-17.9,-18.4,-18.6, -18.2]
T500_GOLD = [-16.4,-16.3,-13.9,-13.1, -12.5,-12.2,-13.2,-13.4, -13.6,-14.6,-15.7,-16.4, -16.7,-15.9,-16.0,-15.6, -15.4,-15.0,-14.7,-15.2, -15.5,-15.2,-15.3,-14.7, -14.9,-14.6,-15.2,-15.4, -15.1,-14.8,-15.2,-15.6, -15.2,-14.9,-15.4,-15.0, -15.4,-15.0,-15.3,-15.0, -15.2,-15.8,-15.2,-15.4, -15.6,-15.0,-15.4,-15.9, -15.8,-16.4,-16.2,-16.8, -17.4,-17.2,-16.8,-17.6, -18.2,-18.0,-17.2,-16.6, -17.4,-17.2,-16.8,-17.0, -16.6]
T500_RUST = [-16.5,-16.6,-14.2,-13.3, -12.4,-11.9,-13.1,-13.6, -13.9,-14.5,-15.5,-16.4, -16.9,-16.4,-15.9,-15.3, -15.1,-15.6,-15.4,-15.9, -15.6,-16.0,-15.8,-16.3, -15.8,-16.2,-15.9,-15.7, -15.3,-15.7,-15.4,-15.8, -15.4,-15.6,-15.2,-15.5, -15.3,-15.4,-15.8,-15.6, -15.8,-15.5,-16.2,-15.6, -15.4,-15.8,-15.4,-15.7, -15.6,-16.0,-16.6,-17.2, -18.2,-18.8,-18.2,-18.4, -19.0,-18.4,-17.8,-18.6, -18.2,-18.6,-18.8,-18.3, -18.4]
T500_PLUM = [-16.6,-16.6,-14.0,-13.1, -12.2,-11.7,-13.0,-13.4, -13.4,-14.3,-15.3,-16.1, -16.7,-15.7,-15.1,-14.6, -14.4,-14.9,-14.6,-15.2, -15.3,-14.9,-15.0,-14.8, -14.6,-15.0,-14.7,-14.9, -14.5,-14.7,-14.5,-14.9, -14.6,-14.3,-14.9,-15.2, -15.0,-15.2,-15.0,-15.3, -14.9,-15.2,-14.9,-14.5, -14.9,-14.7,-15.0,-14.4, -14.6,-14.9,-15.4,-15.8, -16.0,-16.4,-16.8,-16.6, -17.2,-16.9,-16.6,-16.9, -16.4,-15.9,-16.3,-15.8, -15.4]
T500_AQUA = [-16.7,-16.6,-14.2,-13.2, -12.3,-12.0,-13.0,-13.5, -13.7,-14.7,-15.6,-16.3, -16.8,-16.1,-15.6,-15.8, -15.9,-15.2,-15.5,-15.7, -15.9,-15.6,-16.2,-15.9, -16.2,-15.6,-15.7,-16.0, -16.0,-15.7,-16.2,-15.7, -15.9,-16.2,-15.8,-16.3, -16.1,-16.4,-16.0,-16.6, -16.8,-16.4,-17.0,-16.8, -17.2,-16.6,-17.4,-17.8, -18.2,-18.6,-18.0,-17.6, -18.4,-19.4,-19.8,-19.0, -18.2,-18.8,-19.6,-19.2, -18.8,-18.4,-18.6,-18.2, -18.0]
T500_FOREST = [-16.5,-16.5,-13.8,-12.9, -12.0,-11.5,-12.7,-13.1, -13.1,-14.0,-15.1,-16.0, -16.6,-16.1,-15.7,-15.2, -15.3,-14.9,-14.5,-15.0, -15.1,-15.5,-15.6,-15.3, -15.5,-15.3,-15.1,-15.6, -15.4,-15.1,-15.6,-15.3, -15.4,-15.2,-15.5,-15.2, -15.6,-15.3,-15.6,-15.1, -15.3,-15.6,-15.4,-15.2, -15.0,-15.3,-15.8,-15.5, -15.2,-15.8,-15.6,-15.9, -16.6,-16.2,-16.6,-17.2, -17.8,-18.2,-17.4,-17.6, -18.0,-17.6,-17.8,-18.2, -17.9]

# Precipitation (mm), given only for the 6-hour steps that are not dry
PRECIP_RUN = {16: 0.3, 44: 0.2, 48: 0.3, 59: 1.3, 60: 4.4, 61: 2.0, 62: 2.5, 63: 1.0}
PRECIP_MEAN = {3: 0.3, 4: 0.2, 5: 0.4, 6: 0.8, 7: 0.7, 8: 0.2, 9: 0.1, 13: 0.1, 14: 1.4, 15: 1.8, 16: 0.9, 17: 0.3, 18: 0.1,
               42: 0.3, 43: 0.8, 44: 0.3, 45: 0.2, 46: 0.2, 47: 0.2, 48: 1.0, 49: 0.7, 50: 0.5, 51: 0.4, 52: 0.3, 53: 0.8,
               54: 0.6, 55: 0.3, 56: 0.3, 57: 0.4, 58: 0.7, 59: 0.7, 60: 0.5, 61: 0.5, 62: 0.7, 63: 1.1}
PRECIP_ORANGE = {4: 0.5, 5: 1.4, 6: 0.9, 10: 0.3, 13: 0.4, 14: 1.0, 15: 11.2, 16: 2.9, 17: 0.7, 45: 1.1, 46: 2.5, 47: 0.6,
                 58: 3.7, 59: 16.3, 60: 5.5, 61: 1.3, 62: 2.0, 63: 5.5}
PRECIP_BROWN = {5: 1.3, 6: 2.2, 7: 1.0, 13: 0.5, 14: 6.4, 15: 2.5, 16: 1.0, 42: 3.2, 43: 19.8, 44: 6.3, 45: 1.0,
                52: 1.5, 53: 6.7, 54: 5.8, 55: 1.5, 56: 1.5, 57: 1.5, 58: 3.0}
PRECIP_GREEN = {4: 0.4, 5: 2.0, 6: 4.3, 7: 1.5, 8: 0.2, 15: 0.6, 16: 0.2, 46: 0.2}
PRECIP_YELLOW = {5: 1.0, 6: 3.8, 7: 0.6, 14: 1.2, 15: 4.2, 16: 1.2, 17: 0.4, 49: 0.2, 61: 0.7}
PRECIP_VIOLET = {6: 0.6, 13: 0.4, 14: 3.3, 15: 2.2, 16: 1.0, 17: 0.2, 43: 0.4, 44: 0.2, 45: 0.1}
PRECIP_GREY = {15: 1.6, 16: 2.5, 17: 1.3, 18: 0.4}
PRECIP_SOFTGREEN = {14: 0.6, 15: 1.0, 16: 1.6, 17: 2.6, 18: 0.8}
PRECIP_STEEL = {41: 0.4, 42: 4.5, 43: 1.7, 44: 0.2, 47: 0.6, 48: 18.1, 49: 2.9, 50: 0.3, 53: 0.4, 54: 0.4, 58: 0.6, 59: 1.5,
                60: 1.2, 61: 0.8, 62: 2.5, 63: 12.9}
PRECIP_ROYAL = {13: 0.3, 14: 2.6, 15: 1.4, 47: 0.6, 48: 6.3, 49: 2.5, 50: 1.0, 51: 1.7, 52: 1.2, 53: 1.6, 54: 0.7, 55: 0.2,
                58: 0.8, 59: 1.6, 60: 1.0}
PRECIP_LIME = {47: 0.6, 48: 3.1, 49: 3.1, 50: 2.9, 51: 3.4, 52: 3.6, 53: 2.0, 54: 2.6, 55: 0.3, 58: 0.4, 62: 0.6}
PRECIP_TAN = {51: 0.3, 52: 1.5, 53: 7.7, 54: 3.7, 55: 0.6, 57: 0.7, 58: 2.5, 59: 5.7, 60: 2.0, 61: 1.2, 62: 12.8, 63: 10.0, 64: 0.3}
PRECIP_PURPLE = {42: 0.6, 43: 1.2, 44: 2.5, 45: 0.8, 55: 0.4, 56: 3.1, 57: 0.4, 59: 0.4, 60: 1.4, 61: 2.9, 62: 0.8}
PRECIP_DARKPURPLE = {41: 0.3, 42: 0.7, 43: 1.7, 44: 0.6, 60: 0.3, 61: 0.9, 62: 1.2, 63: 0.6}
PRECIP_MAGENTA = {2: 0.2, 3: 0.4, 4: 0.3, 5: 0.7, 6: 1.2, 7: 1.0, 8: 0.4, 13: 0.6, 14: 2.8, 15: 1.8, 16: 0.9, 19: 0.2}
PRECIP_RUST = {3: 0.5, 5: 0.5, 6: 1.6, 7: 1.4, 13: 0.2, 14: 1.8, 15: 2.2, 16: 0.7, 17: 0.2}
PRECIP_PLUM = {6: 1.0, 7: 0.8, 12: 0.2, 13: 0.3, 14: 2.2, 15: 2.9, 16: 1.2, 48: 0.7, 49: 0.9, 53: 0.6}

SNOW_DAYS = ["2018-02-19 00:00", "2018-02-19 06:00", "2018-02-19 12:00", "2018-02-19 18:00", "2018-02-26 18:00",
             "2018-02-27 06:00", "2018-02-28 18:00", "2018-03-01 12:00", "2018-03-02 12:00", "2018-03-02 18:00"]
SNOW_LABELS = ["10%", "13%", "10%", "3%", "3%", "6%", "3%", "3%", "3%", "3%"]

COLOURS = {
    "olive": "#7a5c2e", "darkred": "#8b1a2a", "green": "#2ecc71", "softgreen": "#8fcf73", "yellow": "#ffd60a",
    "sky": "#1e90ff", "orange": "#ff7733", "steel": "#33607f", "tan": "#e6cfa0", "violet": "#d070ff",
    "purple": "#9b5de5", "darkpurple": "#4b0fa8", "royal": "#1d4fc4", "lime": "#9cff33", "brown": "#b5692a",
    "slate": "#6d8794", "navy": "#0a0a99", "peach": "#f2a65a", "grey": "#909090", "blue": "#1a33ff",
    "magenta": "#bb44ff", "teal": "#1f9e6e", "gold": "#e8a800", "rust": "#c8601f", "plum": "#6a1fb8",
    "aqua": "#3a8fd0", "forest": "#3b7a3b",
}

T850_MEMBERS = [
    (T850_OLIVE, "olive"), (T850_DARKRED, "darkred"), (T850_GREEN, "green"), (T850_SOFTGREEN, "softgreen"),
    (T850_TAN, "tan"), (T850_VIOLET, "violet"), (T850_PURPLE, "purple"), (T850_LIME, "lime"), (T850_BROWN, "brown"),
    (T850_SLATE, "slate"), (T850_PEACH, "peach"), (T850_GOLD, "gold"), (T850_FOREST, "forest"), (T850_TEAL, "teal"),
    (T850_RUST, "rust"), (T850_AQUA, "aqua"), (T850_SKY, "sky"), (T850_ORANGE, "orange"), (T850_STEEL, "steel"),
    (T850_YELLOW, "yellow"), (T850_MAGENTA, "magenta"), (T850_PLUM, "plum"), (T850_ROYAL, "royal"),
    (T850_NAVY, "navy"), (T850_DARKPURPLE, "darkpurple"), (T850_BLUE, "blue"),
]
T500_MEMBERS = [
    (T500_TAN, "tan"), (T500_PEACH, "peach"), (T500_SOFTGREEN, "softgreen"), (T500_LIME, "lime"), (T500_YELLOW, "yellow"),
    (T500_GOLD, "gold"), (T500_FOREST, "forest"), (T500_TEAL, "teal"), (T500_RUST, "rust"), (T500_AQUA, "aqua"),
    (T500_VIOLET, "violet"), (T500_SKY, "sky"), (T500_BROWN, "brown"), (T500_ORANGE, "orange"), (T500_SLATE, "steel"),
    (T500_ROYAL, "royal"), (T500_PURPLE, "purple"), (T500_MAGENTA, "magenta"), (T500_GREEN, "green"),
    (T500_DARKRED, "darkred"), (T500_PLUM, "plum"), (T500_NAVY, "navy"), (T500_BLUE, "blue"),
]
PRECIP_MEMBERS = [
    (PRECIP_GREEN, "green"), (PRECIP_YELLOW, "yellow"), (PRECIP_GREY, "grey"), (PRECIP_SOFTGREEN, "softgreen"),
    (PRECIP_LIME, "lime"), (PRECIP_TAN, "tan"), (PRECIP_VIOLET, "violet"), (PRECIP_PURPLE, "purple"),
    (PRECIP_RUST, "rust"), (PRECIP_MAGENTA, "magenta"), (PRECIP_PLUM, "plum"),
    (PRECIP_BROWN, "brown"), (PRECIP_ORANGE, "orange"), (PRECIP_STEEL, "steel"), (PRECIP_ROYAL, "royal"),
    (PRECIP_DARKPURPLE, "darkpurple"),
]


def px(x):
    return (x - LEFT) / (RIGHT - LEFT)


def py(y):
    return (BOTTOM - y) / (BOTTOM - TOP)


def wet_series(steps):
    return [steps.get(i, 0) for i in range(1, len(DATES))]


def add_line(fig, values, colour, width=1.2, size=3.5, yaxis="y", start=0):
    fig.add_trace(go.Scatter(
        x=DATES[start:start + len(values)], y=values, yaxis=yaxis, mode="lines+markers",
        line=dict(color=colour, width=width), marker=dict(color=colour, size=size), showlegend=False,
    ))


fig = go.Figure()

# Deterministic and control runs lie under the ensemble members
add_line(fig, T850_BLACK, "#000000", width=3, size=3)
add_line(fig, T500_BLACK, "#000000", width=3.5, size=3)
add_line(fig, T850_RUN, "#0000ee", width=3.5, size=3)
add_line(fig, T500_RUN, "#0000ee", width=3.5, size=3)

for values, key in T850_MEMBERS:
    add_line(fig, values, COLOURS[key])
for values, key in T500_MEMBERS:
    add_line(fig, values, COLOURS[key])
for steps, key in PRECIP_MEMBERS:
    add_line(fig, wet_series(steps), COLOURS[key], yaxis="y2", start=1)

add_line(fig, wet_series(PRECIP_RUN), "#0000ee", width=3, size=3, yaxis="y2", start=1)
add_line(fig, T850_MEAN, "#ff0000", width=4.5, size=2)
add_line(fig, T500_MEAN, "#ff0000", width=4.5, size=2)
add_line(fig, wet_series(PRECIP_MEAN), "#ff0000", width=4.5, size=2, yaxis="y2", start=1)

# Snow risk pictograms along the bottom of the precipitation panel
SNOW_Y = -51.2
fig.add_trace(go.Scatter(x=SNOW_DAYS, y=[SNOW_Y] * len(SNOW_DAYS), mode="markers",
                         marker=dict(color="#7cccf0", size=16, line=dict(color="#b4e4f8", width=1)), showlegend=False))
fig.add_trace(go.Scatter(x=SNOW_DAYS, y=[SNOW_Y] * len(SNOW_DAYS), mode="markers",
                         marker=dict(symbol="asterisk-open", color="#dff4fc", size=10, line=dict(color="#dff4fc", width=1)),
                         showlegend=False))

shapes = []
for temp in HEAVY_TEMPS:
    shapes.append(dict(type="line", layer="below", xref="paper", x0=0, x1=1, yref="y", y0=temp, y1=temp,
                       line=dict(color="#c4c4c4", width=3.5)))
shapes.append(dict(type="line", layer="below", xref="paper", x0=0, x1=1, yref="y", y0=0, y1=0,
                   line=dict(color="#a2a2a2", width=4)))
shapes.append(dict(type="line", layer="above", xref="paper", x0=0, x1=1, yref="paper", y0=0, y1=0,
                   line=dict(color="#202020", width=2)))
# Rounded outline around the dry period
x0, x1, y0, y1 = px(264), px(591), py(710), py(606)
bx, by = px(264 + 48) - px(264), py(606) - py(606 + 22)
shapes.append(dict(type="path", xref="paper", yref="paper", line=dict(color="#000000", width=5),
                   path=f"M {x0+bx} {y1} L {x1-bx} {y1} Q {x1} {y1} {x1} {y1-by} L {x1} {y0+by} "
                        f"Q {x1} {y0} {x1-bx} {y0} L {x0+bx} {y0} Q {x0} {y0} {x0} {y0+by} "
                        f"L {x0} {y1-by} Q {x0} {y1} {x0+bx} {y1} Z"))
# Legend swatches
shapes.append(dict(type="line", xref="paper", yref="paper", x0=px(20), x1=px(58), y0=py(789), y1=py(789),
                   line=dict(color="#ff0000", width=5)))
shapes.append(dict(type="line", xref="paper", yref="paper", x0=px(257), x1=px(296), y0=py(789), y1=py(789),
                   line=dict(color="#0000ee", width=5)))


def note(text, x, y, size=12.5, colour="#202020", family=MONO, bold=False):
    # Annotations carry a little padding, so the anchor sits 2 px left of the glyphs
    return dict(text=f"<b>{text}</b>" if bold else text, x=px(x - 2), y=py(y), xref="paper", yref="paper", showarrow=False,
                xanchor="left", yanchor="middle", align="left", font=dict(family=family, size=size, color=colour))


annotations = [
    note("Temp. 850hPa", 51, 208), note("Temp. 500hPa", 51, 367), note("Précipitations", 50, 627),
    note("(°c)", 2, 751), note("t. 625m", 3, 772), note("(mm)", 863, 751),
    note("Moyenne des scénarios", 69, 789), note("Run de contrôle", 307, 789),
    note(" ".join(f"{n:02d}" for n in range(1, 31)), 476, 799, size=7.7),
    note("Temperaturas", 275, 104, size=37.8, colour="#000000", family="Lato", bold=True),
    note("acima da média", 275, 151, size=38, colour="#000000", family="Lato", bold=True),
    note("Período seco", 316, 642, size=37, colour="#000000", family="Lato", bold=True),
    note("INCERTEZA", 641, 601, size=33.5, colour="#000000", family="Lato", bold=True),
]
for day, label in zip(SNOW_DAYS, SNOW_LABELS):
    annotations.append(dict(text=label, x=day, y=-48.9, xref="x", yref="y", showarrow=False, textangle=-90,
                            xanchor="center", yanchor="middle", font=dict(family=MONO, size=10.5, color="#0000ff")))

y_low = -45 - (BOTTOM - 675) / 8.747
y_high = 30 + 19 / 8.747

fig.update_layout(
    width=W, height=H, autosize=False, margin=dict(l=LEFT, r=W - RIGHT, t=TOP, b=H - BOTTOM, pad=0, autoexpand=False),
    paper_bgcolor="white", plot_bgcolor="white", showlegend=False, shapes=shapes, annotations=annotations,
    xaxis=dict(
        type="date", range=[DATES[0], DATES[-1]], tickmode="array", tickvals=list(DAY_TICKS), ticktext=DAY_LABELS,
        tickangle=-90, tickfont=dict(family=MONO, size=12.5, color=TICK_GREY), ticks="", ticklabelshift=8,
        showgrid=True, gridcolor="#d2d2d2", gridwidth=2, zeroline=False, showline=False, automargin=False,
    ),
    yaxis=dict(
        range=[y_low, y_high], tickmode="array", tickvals=TEMP_TICKS,
        ticktext=[f"{t}".ljust(3, "\u00a0") for t in TEMP_TICKS],
        tickfont=dict(family=MONO, size=12.5, color=TICK_GREY), ticks="outside", ticklen=11,
        tickcolor="rgba(0,0,0,0)", ticklabelshift=3, showgrid=True, gridcolor="#d2d2d2", gridwidth=2,
        zeroline=False, showline=False, automargin=False,
    ),
    yaxis2=dict(
        overlaying="y", side="right", range=[y_low + 45, y_high + 45], tickmode="array", tickvals=MM_TICKS,
        tickfont=dict(family=MONO, size=12.5, color=TICK_GREY), ticks="outside", ticklen=22,
        tickcolor="rgba(0,0,0,0)", ticklabelshift=3, showgrid=False, zeroline=False, showline=False, automargin=False,
    ),
)

fig.write_html("out.html")
